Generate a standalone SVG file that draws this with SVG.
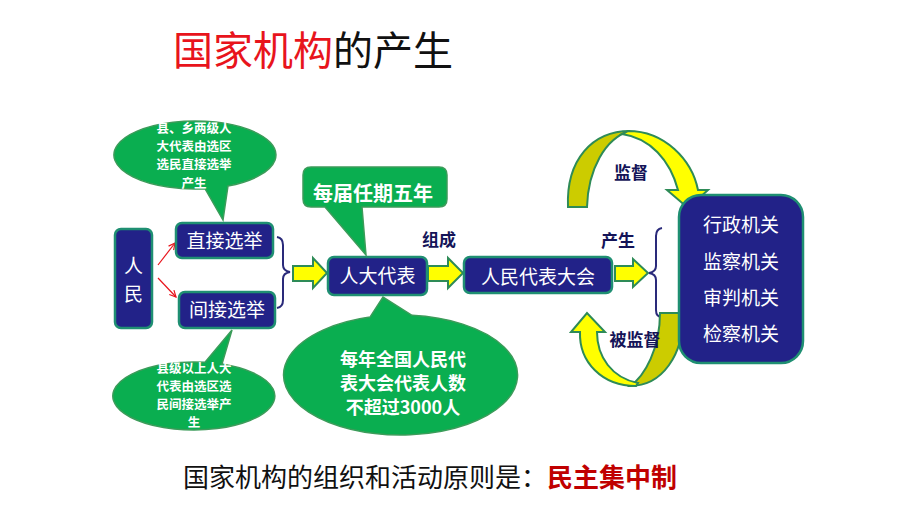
<svg xmlns="http://www.w3.org/2000/svg" width="920" height="517" viewBox="0 0 920 517">
<defs>
<style>
.box{fill:#222288;stroke:#1f8f72;stroke-width:2.5}
.bub{fill:#0aae50;stroke:#3c9c5a;stroke-width:1.5}
.yarr{fill:#ffff00;stroke:#2e8b57;stroke-width:2}
.brace{fill:none;stroke:#2a2a7a;stroke-width:2}
.wt{font-family:"Noto Sans CJK SC","Liberation Sans",sans-serif;fill:#ffffff;font-size:19px;text-anchor:middle}
.bt{font-family:"Noto Sans CJK SC","Liberation Serif",serif;fill:#ffffff;font-weight:bold;text-anchor:middle}
.lbl{font-family:"Noto Sans CJK SC","Liberation Sans",sans-serif;fill:#141458;font-weight:bold;font-size:17px;text-anchor:middle}
.red{fill:none;stroke:#e8141c;stroke-width:1.2}
</style>
<marker id="ra" viewBox="0 0 10 10" refX="9" refY="5" markerWidth="8" markerHeight="8" orient="auto" markerUnits="userSpaceOnUse">
<path d="M1,1 L9,5 L1,9" fill="none" stroke="#e8141c" stroke-width="1.5"/>
</marker>
</defs>
<rect width="920" height="517" fill="#ffffff"/>

<text x="173" y="65" font-family="Noto Sans CJK SC, Liberation Sans, sans-serif" font-size="40" fill="#e8141c">国家机构<tspan fill="#111111">的产生</tspan></text>

<g id="connectors">
<path class="red" d="M158,265 L175,243" marker-end="url(#ra)"/>
<path class="red" d="M158,278 L176,297" marker-end="url(#ra)"/>
<path class="brace" d="M277,237 Q283,238 283,245 V265 Q283,271 290,272 Q283,273 283,279 V300 Q283,307 277,308"/>
<path class="yarr" d="M293,266 H313 V258 L327,273 L313,288 V281 H293 Z"/>
<path class="yarr" d="M428,266 H448 V258 L463,273 L448,288 V281 H428 Z"/>
<path class="yarr" d="M615,266 H633 V259 L648,273 L633,287 V281 H615 Z"/>
<path class="brace" d="M662,228 Q656,229 656,236 V266 Q656,272 649,273 Q656,274 656,280 V310 Q656,317 662,317"/>
<path d="M568,207 C566,160 592,131 630,131 C605,138 588,170 587,207 Z" fill="#cccc00" stroke="#2e8b57" stroke-width="2"/>
<path d="M628,131 C665,131 692,160 698,190 L708,190 L688,208 L667,190 L678,190 C670,160 650,138 622,134 Z" fill="#ffff00" stroke="#2e8b57" stroke-width="2"/>
<path d="M660,313 L683,313 C684,355 662,386 630,386 C645,376 660,348 660,313 Z" fill="#cccc00" stroke="#2e8b57" stroke-width="2"/>
<path d="M636,386 C602,386 579,362 580,332 L571,332 L587,313 L605,332 L597,332 C597,357 612,378 638,383 Z" fill="#ffff00" stroke="#2e8b57" stroke-width="2"/>
</g>

<g id="n-renmin">
<rect class="box" x="115" y="229" width="37" height="99" rx="6"/>
<text class="wt" x="133.5" y="273">人</text>
<text class="wt" x="133.5" y="301">民</text>
</g>
<g id="n-direct">
<rect class="box" x="176" y="223" width="97" height="35" rx="6"/>
<text class="wt" x="224.5" y="248">直接选举</text>
</g>
<g id="n-indirect">
<rect class="box" x="179" y="292" width="96" height="36" rx="6"/>
<text class="wt" x="227" y="317">间接选举</text>
</g>
<g id="n-delegate">
<rect class="box" x="328" y="257" width="99" height="38" rx="6"/>
<text class="wt" x="377.5" y="283" font-size="20">人大代表</text>
</g>
<g id="n-npc">
<rect class="box" x="464" y="257" width="148" height="36" rx="6"/>
<text class="wt" x="538" y="284" font-size="20">人民代表大会</text>
</g>
<g id="n-organs">
<rect class="box" x="679" y="195" width="124" height="168" rx="22"/>
<text class="wt" x="741" y="232">行政机关</text>
<text class="wt" x="741" y="269">监察机关</text>
<text class="wt" x="741" y="305">审判机关</text>
<text class="wt" x="741" y="341">检察机关</text>
</g>

<g id="n-bubble-direct">
<path class="bub" d="M205,188.7 A81,34 0 1 1 228,186 L223,220 Z"/>
<text class="bt" font-size="12.5"><tspan x="194" y="133">县、乡两级人</tspan><tspan x="194" y="151.2">大代表由选区</tspan><tspan x="194" y="169.4">选民直接选举</tspan><tspan x="194" y="187.6">产生</tspan></text>
</g>
<g id="n-bubble-indirect">
<path class="bub" d="M222,364.1 A81,34 0 1 1 205,362.3 L232,330 Z"/>
<text class="bt" font-size="12.5"><tspan x="194" y="372.5">县级以上人大</tspan><tspan x="194" y="390.6">代表由选区选</tspan><tspan x="194" y="408.7">民间接选举产</tspan><tspan x="194" y="426.8">生</tspan></text>
</g>
<g id="n-term">
<path class="bub" d="M311,167 H439 Q447,167 447,175 V199 Q447,207 439,207 H362 L366,255 L325,207 H311 Q303,207 303,199 V175 Q303,167 311,167 Z"/>
<text class="bt" x="373" y="201" font-size="20">每届任期五年</text>
</g>
<g id="n-bubble-count">
<path class="bub" d="M412,315.3 A117,60 0 1 1 370,317.1 L383,297 Z"/>
<text class="bt" font-size="18"><tspan x="403" y="366">每年全国人民代</tspan><tspan x="403" y="390">表大会代表人数</tspan><tspan x="403" y="414">不超过3000人</tspan></text>
</g>

<g id="labels">
<text class="lbl" x="439" y="246">组成</text>
<text class="lbl" x="618" y="247">产生</text>
<text class="lbl" x="631" y="179">监督</text>
<text class="lbl" x="635" y="346">被监督</text>
</g>

<text x="183" y="487" font-family="Noto Sans CJK SC, Liberation Sans, sans-serif" font-size="26" fill="#111111">国家机构的组织和活动原则是：<tspan fill="#c00000" font-weight="bold">民主集中制</tspan></text>
</svg>
